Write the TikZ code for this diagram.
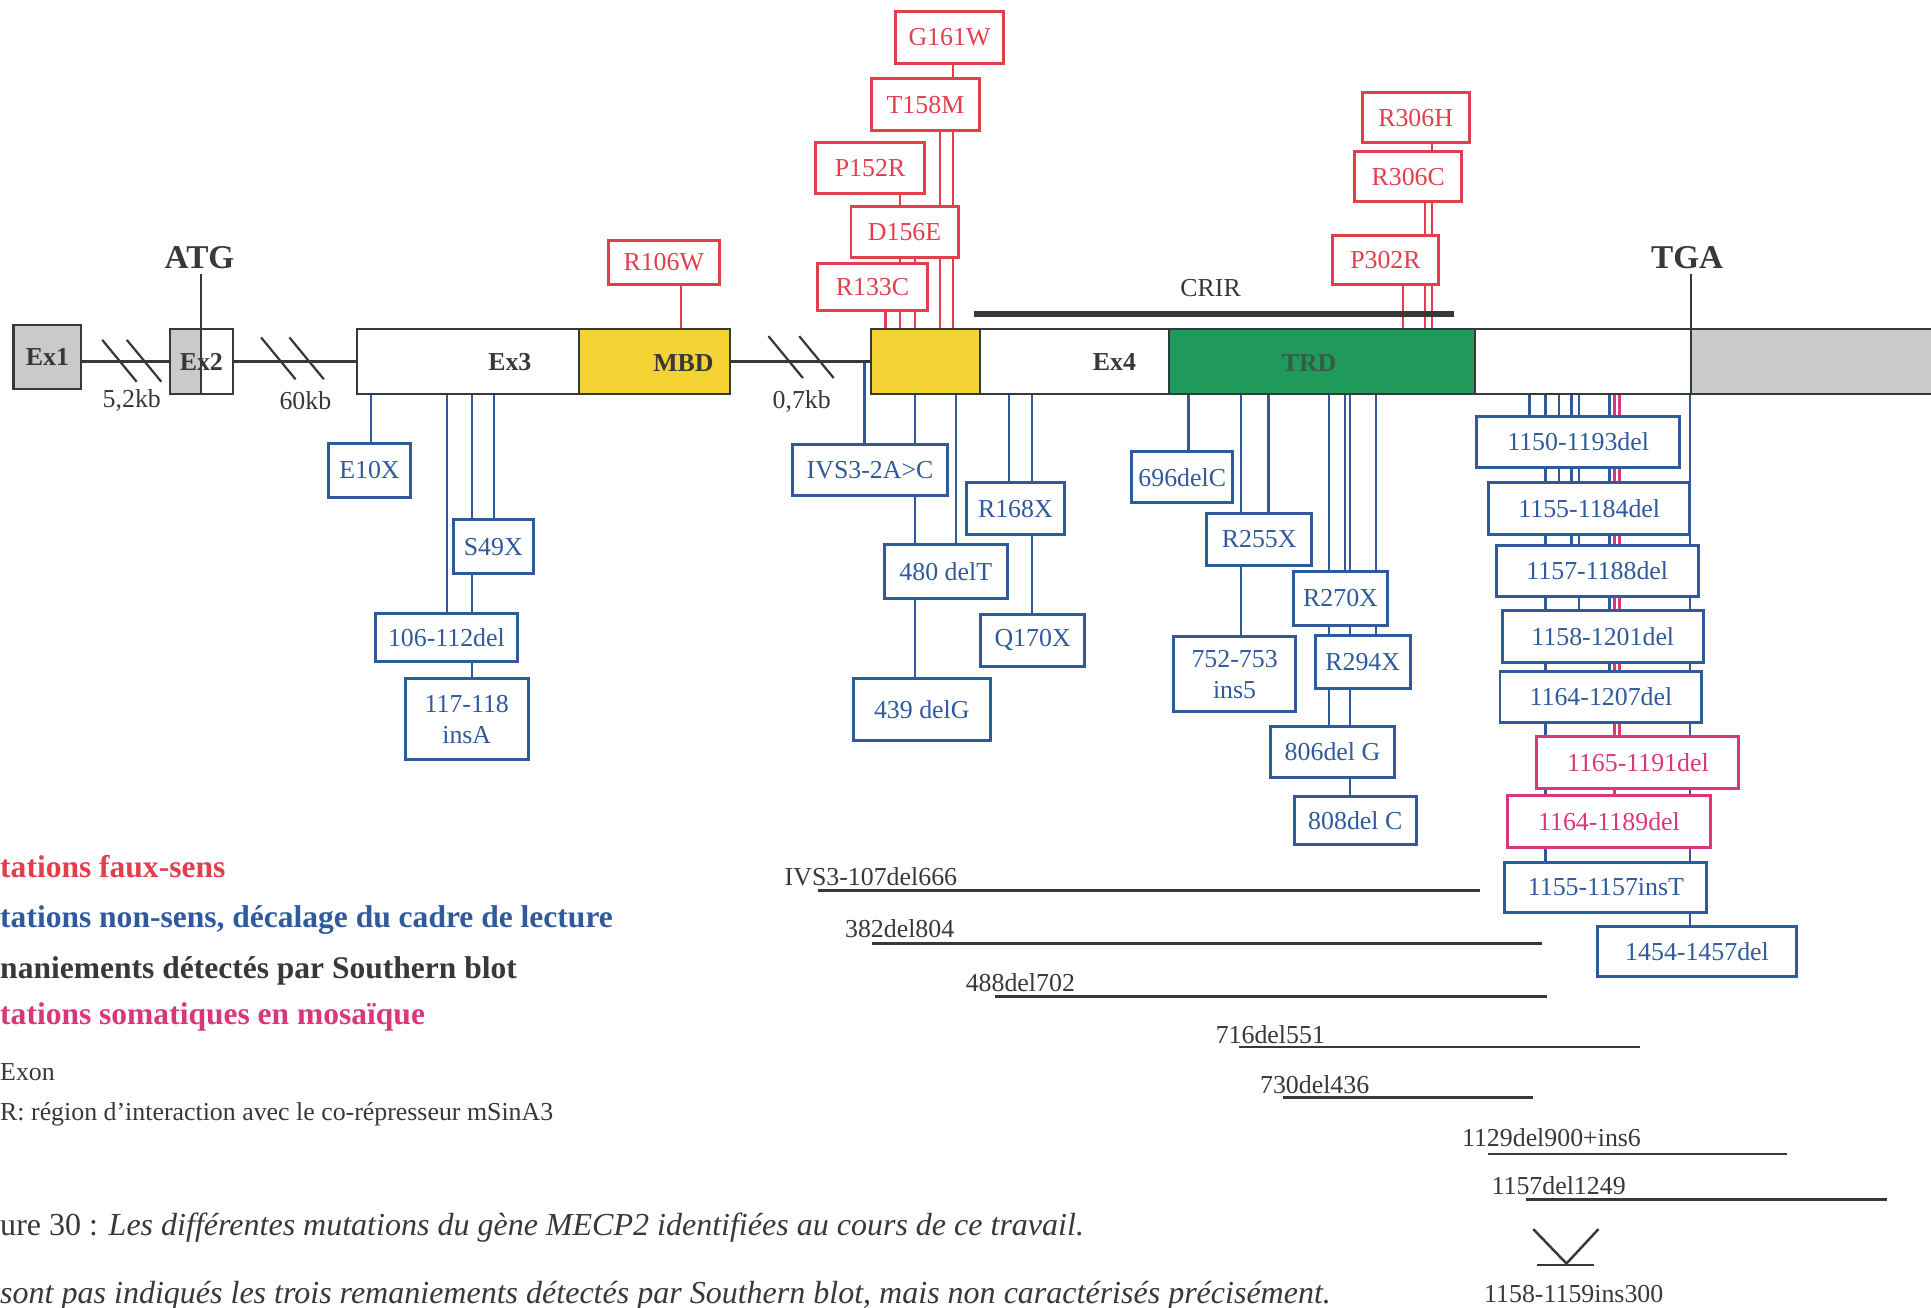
\documentclass[tikz,border=0pt]{standalone}
\usepackage{fontspec}
\setmainfont{Liberation Serif}
\usetikzlibrary{backgrounds}
\definecolor{linec}{HTML}{383838}
\definecolor{misc}{HTML}{E23F4D}
\definecolor{nonc}{HTML}{2F5A9C}
\definecolor{mosc}{HTML}{D9367C}
\definecolor{mbdc}{HTML}{F6D335}
\definecolor{trdc}{HTML}{1F9A5B}
\definecolor{trdtxt}{HTML}{355C47}
\definecolor{utrc}{HTML}{C9CBCB}
\newcommand{\boxfont}{\fontsize{21}{25}\selectfont}
\tikzset{
  bb/.style={draw=linec,line width=1.8pt},
  seg/.style={draw=linec,line width=1.8pt,inner sep=0pt,minimum height=53,font=\bfseries\boxfont,text=linec},
  seglbl/.style={inner sep=0pt,font=\bfseries\boxfont,text=linec},
  site/.style={inner sep=0pt,font=\bfseries\fontsize{27}{30}\selectfont,text=linec},
  kb/.style={inner sep=0pt,font=\boxfont,text=linec},
  mis/.style={draw=misc,line width=2.4pt,fill=white,text=misc,inner sep=0pt,font=\boxfont,align=center},
  non/.style={mis,draw=nonc,text=nonc},
  mos/.style={mis,draw=mosc,text=mosc},
  misln/.style={draw=misc,line width=1.8pt},
  nonln/.style={draw=nonc,line width=1.8pt},
  mosln/.style={draw=mosc,line width=1.8pt},
  sbl/.style={draw=linec,line width=2pt},
  sblbl/.style={inner sep=0pt,anchor=base west,font=\boxfont,text=linec},
  leg/.style={inner sep=0pt,anchor=west,font=\bfseries\fontsize{25.6}{28}\selectfont},
  note/.style={inner sep=0pt,anchor=west,font=\boxfont,text=linec},
  capt/.style={inner sep=0pt,anchor=west,font=\fontsize{26}{29}\selectfont,text=linec},
  brk/.pic={\draw[bb] (-14,-17) -- (14,17);},
}
\newcommand{\mutbox}[6][non]{\node[#1,minimum width=#4,minimum height=#5] (#2) at (#3) {#6};}
\newcommand{\mutlink}[4][nonln]{\draw[#1] (#2,0 |- #3.south) -- (#2,0 |- #4.north);}

\begin{document}
\begin{tikzpicture}[x=1pt,y=-1pt]
  \useasboundingbox (0,0) rectangle (1568,1062);
  % gene
  \node[seg,fill=utrc,minimum width=55,minimum height=52] (ex1) at (38.5,290) {Ex1};
  \node[seg,fill=white,minimum width=51,path picture={\fill[utrc] (path picture bounding box.north west) rectangle (path picture bounding box.south);}] (ex2) at (163.5,293.5) {Ex2};
  \node[seg,fill=white,minimum width=180] (ex3) at (380,293.5) {};
  \node[seg,fill=mbdc,minimum width=123] (mbd) at (531.5,293.5) {};
  \node[seg,fill=mbdc,minimum width=89] (ex4y) at (751.5,293.5) {};
  \node[seg,fill=white,minimum width=153] (ex4) at (872.5,293.5) {};
  \node[seg,fill=trdc,minimum width=249] (trd) at (1073.5,293.5) {};
  \node[seg,fill=white,minimum width=175] (ex4b) at (1285.5,293.5) {};
  \node[seg,fill=utrc,minimum width=207] (utr) at (1476.5,293.5) {};
  \node[seglbl] (lex3) at (414,294) {Ex3};
  \node[seglbl] (lmbd) at (555,295) {MBD};
  \node[seglbl] (lex4) at (905,294) {Ex4};
  \node[seglbl,text=trdtxt] (ltrd) at (1063,295) {TRD};
  \draw[bb] (ex2.west -| ex1.east) -- (ex2.west);
  \draw[bb] (ex2.east) -- (ex3.west);
  \draw[bb] (mbd.east) -- (ex4y.west);
  \pic at (97,293) {brk}; \pic at (117,293) {brk};
  \pic at (226,291) {brk}; \pic at (249,291) {brk};
  \pic at (638,290) {brk}; \pic at (663,290) {brk};
  \node[kb] (kb1) at (107,325) {5,2kb};
  \node[kb] (kb2) at (248,325) {60kb};
  \node[kb] (kb3) at (651,326) {0,7kb};
  \node[site] (atg) at (162,209) {ATG};
  \node[site] (tga) at (1370,209) {TGA};
  \draw[bb] (163.5,0 |- atg.south) ++(0,4) -- (163.5,0 |- ex2.south);
  \draw[bb] (1373,0 |- tga.south) ++(0,4) -- (1373,0 |- utr.north);
  \node[fill=linec,minimum width=390,minimum height=4.5,inner sep=0pt] (crirbar) at (986,255) {};
  \node[kb] (crir) at (983,234) {CRIR};
  % faux-sens
  \mutbox[mis]{R106W}{539,213}{90}{36}{R106W}
  \mutbox[mis]{G161W}{771,30.5}{88}{42}{G161W}
  \mutbox[mis]{T158M}{751.5,85}{87}{42}{T158M}
  \mutbox[mis]{P152R}{706.5,136.5}{89}{41}{P152R}
  \mutbox[mis]{D156E}{734.5,188.5}{87}{41}{D156E}
  \mutbox[mis]{R133C}{708.5,233}{89}{38}{R133C}
  \mutbox[mis]{R306H}{1149.5,95.5}{87}{41}{R306H}
  \mutbox[mis]{R306C}{1143.5,143.5}{87}{41}{R306C}
  \mutbox[mis]{P302R}{1125,211}{86}{40}{P302R}
  % non-sens, decalage
  \mutbox{E10X}{300,382}{66}{44}{E10X}
  \mutbox{S49X}{400.5,444}{65}{44}{S49X}
  \mutbox{d106}{362.5,517.5}{115}{39}{106-112del}
  \mutbox{i117}{379,584}{100}{66}{117-118\\insA}
  \mutbox{ivs}{706.5,381.5}{126}{41}{IVS3-2A>C}
  \mutbox{R168X}{824.5,413}{79}{42}{R168X}
  \mutbox{d480}{768,464}{100}{44}{480 delT}
  \mutbox{d439}{748.5,576}{111}{50}{439 delG}
  \mutbox{Q170X}{838.5,520}{85}{42}{Q170X}
  \mutbox{d696}{960,387.5}{82}{41}{696delC}
  \mutbox{R255X}{1022.5,438}{85}{42}{R255X}
  \mutbox{R270X}{1088.5,486}{77}{44}{R270X}
  \mutbox{i752}{1002.5,547.5}{99}{61}{752-753\\ins5}
  \mutbox{R294X}{1106.5,537.5}{77}{43}{R294X}
  \mutbox{d806}{1082,610.5}{100}{41}{806del G}
  \mutbox{d808}{1100.5,666.5}{99}{39}{808del C}
  \mutbox{d1150}{1281.5,359}{165}{42}{1150-1193del}
  \mutbox{d1155}{1290.5,413}{163}{42}{1155-1184del}
  \mutbox{d1157}{1297,463.5}{164}{41}{1157-1188del}
  \mutbox{d1158}{1301.5,517}{163}{42}{1158-1201del}
  \mutbox{d1164}{1300,566}{164}{42}{1164-1207del}
  \mutbox[mos]{d1165}{1330,619}{164}{42}{1165-1191del}
  \mutbox[mos]{d1164b}{1306.5,667}{165}{42}{1164-1189del}
  \mutbox{i1155}{1304,720.5}{164}{41}{1155-1157insT}
  \mutbox{d1454}{1378,772.5}{162}{41}{1454-1457del}
  \begin{scope}[on background layer]
    \fill[white] (0,0) rectangle (1568,1062);
    \mutlink[misln]{553}{R106W}{mbd}
    \mutlink[misln]{719}{R133C}{ex4y}
    \mutlink[misln]{731}{P152R}{ex4y}
    \mutlink[misln]{743}{D156E}{ex4y}
    \mutlink[misln]{763}{T158M}{ex4y}
    \mutlink[misln]{774}{G161W}{ex4y}
    \mutlink[misln]{1139}{P302R}{trd}
    \mutlink[misln]{1157}{R306C}{trd}
    \mutlink[misln]{1163}{R306H}{trd}
    \mutlink{301}{ex3}{E10X}
    \mutlink{401}{ex3}{S49X}
    \mutlink{363}{ex3}{d106}
    \mutlink{383}{ex3}{i117}
    \draw[nonln] (702,0 |- ex4y.west) -- (702,0 |- ivs.north);
    \mutlink{776}{ex4y}{d480}
    \mutlink{743}{ex4y}{d439}
    \mutlink{819}{ex4}{R168X}
    \mutlink{838}{ex4}{Q170X}
    \mutlink{965}{trd}{d696}
    \mutlink{1030}{trd}{R255X}
    \mutlink{1008}{trd}{i752}
    \mutlink{1092}{trd}{R270X}
    \mutlink{1117}{trd}{R294X}
    \mutlink{1079}{trd}{d806}
    \mutlink{1096}{trd}{d808}
    \mutlink{1242}{ex4b}{d1150}
    \mutlink{1266}{ex4b}{d1155}
    \mutlink{1276}{ex4b}{d1157}
    \mutlink{1282}{ex4b}{d1158}
    \mutlink{1307}{ex4b}{d1164}
    \mutlink[mosln]{1315}{ex4b}{d1165}
    \mutlink[mosln]{1311}{ex4b}{d1164b}
    \mutlink{1255}{ex4b}{i1155}
    \mutlink{1372}{ex4b}{d1454}
  \end{scope}
  % remaniements (Southern blot)
  \node[sblbl] (sb1) at (637,719) {IVS3-107del666};
  \draw[sbl] (664,723) -- (1202,723);
  \node[sblbl] (sb2) at (686,761) {382del804};
  \draw[sbl] (708,766) -- (1252,766);
  \node[sblbl] (sb3) at (784,805) {488del702};
  \draw[sbl] (808,809) -- (1256,809);
  \node[sblbl] (sb4) at (987,847) {716del551};
  \draw[sbl] (1006,850) -- (1332,850);
  \node[sblbl] (sb5) at (1023,888) {730del436};
  \draw[sbl] (1042,891) -- (1245,891);
  \node[sblbl] (sb6) at (1187,931) {1129del900+ins6};
  \draw[sbl] (1208,937) -- (1451,937);
  \node[sblbl] (sb7) at (1211,970) {1157del1249};
  \draw[sbl] (1239,974) -- (1532,974);
  \draw[sbl] (1245,998) -- (1272,1026) -- (1298,998);
  \draw[sbl] (1248,1027) -- (1294,1027);
  \node[sblbl] (sb8) at (1205,1058) {1158-1159ins300};
  % legende
  \node[leg,text=misc] (lg1) at (0,704) {tations faux-sens};
  \node[leg,text=nonc] (lg2) at (0,747) {tations non-sens, décalage du cadre de lecture};
  \node[leg,text=linec] (lg3) at (0,788) {naniements détectés par Southern blot};
  \node[leg,text=mosc] (lg4) at (0,826) {tations somatiques en mosaïque};
  \node[note] (lg5) at (0,871) {Exon};
  \node[note] (lg6) at (0,905) {R: région d'interaction avec le co-répresseur mSinA3};
  \node[capt] (cap1) at (0,997) {ure 30 : \textit{Les différentes mutations du gène MECP2 identifiées au cours de ce travail.}};
  \node[capt] (cap2) at (0,1052) {\textit{sont pas indiqués les trois remaniements détectés par Southern blot, mais non caractérisés précisément.}};
\end{tikzpicture}
\end{document}
